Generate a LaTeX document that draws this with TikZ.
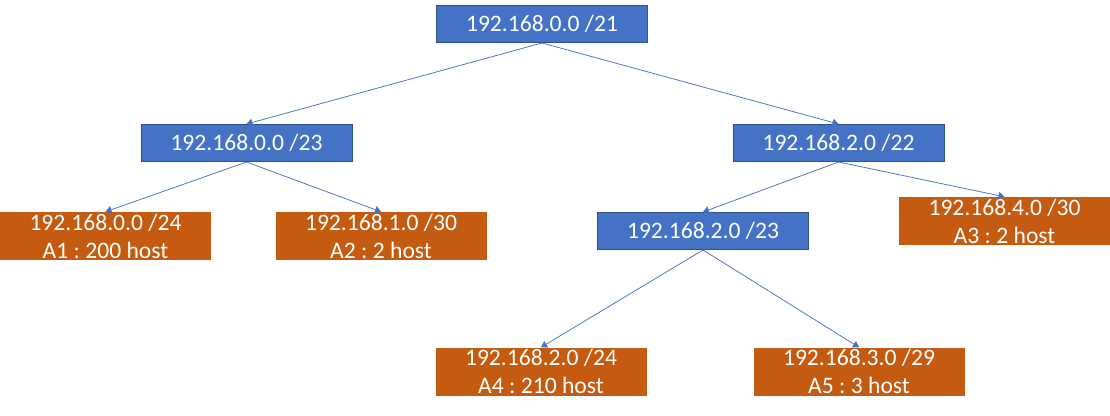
\documentclass[tikz,border=0pt]{standalone}
\usepackage{fontspec}
\setmainfont{Carlito}
\frenchspacing
\usetikzlibrary{arrows.meta}
\definecolor{netblue}{HTML}{4472C4}
\definecolor{netborder}{HTML}{2F528F}
\definecolor{netorange}{HTML}{C55A11}
\begin{document}
\begin{tikzpicture}[x=1pt,y=-1pt,
  every node/.style={text=white, inner sep=0pt, align=center,
    font=\fontsize{23.6}{28}\selectfont},
  subnet/.style={fill=netblue, draw=netborder, line width=1pt,
    minimum width=211pt, minimum height=37pt},
  alloc/.style={fill=netorange, minimum width=211pt, minimum height=48pt},
  link/.style={draw=netblue, line width=0.75pt,
    -{Triangle[length=6pt,width=7.5pt]}}]
  \useasboundingbox (0,0) rectangle (1110,415);

  % address blocks being split
  \node[subnet] (root) at (542,24)    {192.168.0.0 /21};
  \node[subnet] (left) at (246.5,143) {192.168.0.0 /23};
  \node[subnet] (right) at (838.5,143) {192.168.2.0 /22};
  \node[subnet] (mid) at (703,231)    {192.168.2.0 /23};

  % final allocations
  \node[alloc] (a1) at (105.5,236) {192.168.0.0 /24\\A1 : 200 host};
  \node[alloc] (a2) at (381,236)   {192.168.1.0 /30\\A2 : 2 host};
  \node[alloc] (a3) at (1004.5,221) {192.168.4.0 /30\\A3 : 2 host};
  \node[alloc] (a4) at (541,371.5) {192.168.2.0 /24\\A4 : 210 host};
  \node[alloc] (a5) at (859,371.5) {192.168.3.0 /29\\A5 : 3 host};

  % connectors
  \draw[link] (root.south) -- (left.north);
  \draw[link] (root.south) -- (right.north);
  \draw[link] (left.south) -- (a1.north);
  \draw[link] (left.south) -- (a2.north);
  \draw[link] (right.south) -- (mid.north);
  \draw[link] (right.south) -- (a3.north);
  \draw[link] (mid.south) -- (a4.north);
  \draw[link] (mid.south) -- (a5.north);
\end{tikzpicture}
\end{document}
